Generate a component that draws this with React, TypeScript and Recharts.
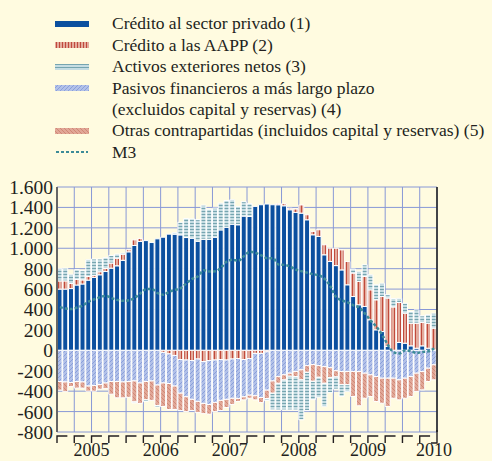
import React from "react";
import { ComposedChart, Bar, Line, XAxis, YAxis, CartesianGrid } from "recharts";

const years = ["2005", "2006", "2007", "2008", "2009", "2010"];

const privado = [
  600, 600, 605, 640, 650, 688, 715, 740, 772, 805, 828, 882,
  965, 1027, 1066, 1075, 1056, 1092, 1108, 1138, 1138, 1131, 1105, 1098,
  1068, 1088, 1088, 1108, 1180, 1206, 1236, 1230, 1315, 1312, 1410, 1426,
  1433, 1426, 1426, 1416, 1377, 1351, 1344, 1279, 1132, 1116, 936, 871,
  830, 788, 642, 527, 446, 430, 299, 201, 184, 38, 0, 77,
  70, 44, 21, 44, 21, 5,
];
const aapp = [
  80, 80, 50, 55, 40, 35, 20, 30, 30, 50, 75, 60,
  20, 55, 30, 0, 0, 0, -20, -35, -50, -90, -95, -100,
  -85, -110, -100, -95, -90, -95, -85, -80, -90, -80, -30, -30,
  -15, 0, 10, 20, 15, 33, 80, 49, 33, 65, 98, 130,
  170, 196, 228, 230, 230, 294, 294, 294, 343, 474, 425, 392,
  294, 222, 245, 229, 245, 212,
];
const activos = [
  120, 125, 90, 95, 90, 165, 160, 125, 105, 75, 40, 10,
  0, -10, 0, -15, 0, -15, 0, 0, 15, 124, 187, 190,
  212, 334, 294, 285, 262, 262, 239, 180, 141, 124, 0, 0,
  -20, -163, -261, -294, -330, -327, -392, -376, -180, -196, -229, -147,
  -120, -114, -65, 39, 98, 114, 147, 147, 130, 33, 82, 40,
  98, 114, 130, 65, 82, 147,
];
const pasivos = [
  -305, -310, -315, -305, -310, -350, -345, -335, -320, -305, -305, -310,
  -305, -300, -320, -305, -300, -340, -300, -290, -300, -330, -360, -380,
  -415, -410, -430, -415, -400, -385, -385, -391, -365, -359, -415, -432,
  -375, -300, -258, -240, -224, -207, -191, -150, -140, -150, -160, -170,
  -200, -207, -207, -207, -207, -224, -240, -256, -273, -273, -273, -289,
  -273, -256, -224, -207, -175, -142,
];
const otras = [
  -85, -95, -40, -65, -60, -50, -55, -45, -55, -125, -160, -155,
  -155, -205, -200, -180, -190, -200, -230, -255, -230, -170, -145, -110,
  -110, -100, -95, -90, -100, -80, -60, -30, -30, -30, -40, -50,
  -82, -120, -65, -50, -30, -50, -98, -65, -163, -114, -163, -98,
  -60, -130, -130, -245, -336, -245, -212, -245, -245, -277, -196, -196,
  -196, -196, -180, -180, -130, -147,
];
const m3 = [
  423, 410, 404, 420, 440, 478, 500, 521, 534, 511, 494, 485,
  490, 515, 560, 600, 600, 560, 545, 575, 592, 610, 658, 700,
  725, 785, 772, 775, 810, 870, 887, 878, 925, 965, 955, 930,
  903, 903, 840, 837, 821, 790, 775, 760, 745, 735, 700, 625,
  520, 490, 470, 440, 420, 360, 290, 230, 150, 50, -20, -30,
  0, -10, -25, -15, -10, 20,
];

const yTicks = [-800, -600, -400, -200, 0, 200, 400, 600, 800, 1000, 1200, 1400, 1600];

const months = privado.map(
  (_, i) => `${years[Math.floor(i / 12)]}-${String((i % 12) + 1).padStart(2, "0")}`
);

const data = months.map((m, i) => ({
  m,
  privado: privado[i],
  aapp: aapp[i],
  activos: activos[i],
  pasivos: pasivos[i],
  otras: otras[i],
  m3: m3[i],
}));

const INK = "#231f20";
const GRID = "#8898d6";
const BLUE = "#0b4f9f";
const M3C = "#3d8b98";
const FONT = "'Liberation Serif', 'DejaVu Serif', serif";

// layout
const W = 492;
const H = 461;
const LEFT = 57;
const RIGHT = 437;
const TOP = 187;
const XAXIS_H = 29;
const BAND = (RIGHT - LEFT) / months.length;

function fmt(v: number) {
  const s = String(Math.abs(v));
  const t = s.length > 3 ? s.slice(0, -3) + "." + s.slice(-3) : s;
  return v < 0 ? "-" + t : t;
}

function Patterns({ p }: { p: string }) {
  return (
    <defs>
      <pattern id={`${p}aapp`} width="3" height="4" patternUnits="userSpaceOnUse">
        <rect width="3" height="4" fill="#e4ab9c" />
        <rect x="1" width="1" height="4" fill="#c04a3c" />
      </pattern>
      <pattern id={`${p}activos`} width="4" height="3" patternUnits="userSpaceOnUse">
        <rect width="4" height="3" fill="#c6dde3" />
        <rect y="1" width="4" height="1" fill="#76a5b0" />
      </pattern>
      <pattern id={`${p}pasivos`} width="4" height="4" patternUnits="userSpaceOnUse">
        <rect width="4" height="4" fill="#b2c1e8" />
        <path d="M0,4 L4,0 M-1,1 L1,-1 M3,5 L5,3" stroke="#7891d6" strokeWidth="0.7" />
      </pattern>
      <pattern id={`${p}otras`} width="4" height="4" patternUnits="userSpaceOnUse">
        <rect width="4" height="4" fill="#e1a797" />
        <path d="M0,0 L4,4 M-1,3 L1,5 M3,-1 L5,1" stroke="#c97a68" strokeWidth="0.7" />
      </pattern>
    </defs>
  );
}

function QuarterTick(props: any) {
  const { x, y, payload } = props;
  const i: number = payload.index;
  const xb = x - BAND / 2;
  const out: React.ReactNode[] = [];
  if (i % 3 === 0) {
    out.push(
      <path key="t" d={`M${xb},${y + 11} V${y + 4} H${xb + BAND * 1.8}`} fill="none" stroke={INK} strokeWidth={1.4} />
    );
  }
  if (i === months.length - 1) {
    const xe = x + BAND / 2;
    out.push(<path key="e" d={`M${xe - 6},${y + 11} H${xe} V${y - 2}`} fill="none" stroke={INK} strokeWidth={1.4} />);
    out.push(
      <text key="ly" x={xe - 3} y={y + 24} textAnchor="middle" fontSize={18} fontFamily={FONT} fill={INK}>
        {years[years.length - 1]}
      </text>
    );
  }
  if (i % 12 === 6) {
    out.push(
      <text key="y" x={xb} y={y + 24} textAnchor="middle" fontSize={18} fontFamily={FONT} fill={INK}>
        {years[Math.floor(i / 12)]}
      </text>
    );
  }
  return <g>{out}</g>;
}

const legendItems = [
  { key: "privado", lines: ["Crédito al sector privado (1)"] },
  { key: "aapp", lines: ["Crédito a las AAPP (2)"] },
  { key: "activos", lines: ["Activos exteriores netos (3)"] },
  { key: "pasivos", lines: ["Pasivos financieros a más largo plazo", "(excluidos capital y reservas) (4)"] },
  { key: "otras", lines: ["Otras contrapartidas (incluidos capital y reservas) (5)"] },
  { key: "m3", lines: ["M3"] },
];

function Swatch({ k }: { k: string }) {
  return (
    <svg width={34} height={8} style={{ display: "block" }}>
      <Patterns p={`lg-${k}-`} />
      {k === "m3" ? (
        <line x1={1} y1={4} x2={33} y2={4} stroke={M3C} strokeWidth={2} strokeDasharray="3 2" />
      ) : (
        <rect x={0} y={1} width={34} height={6} fill={k === "privado" ? BLUE : `url(#lg-${k}-${k})`} />
      )}
    </svg>
  );
}

function ChartLegend() {
  const LH = 21.4;
  let row = 0;
  const nodes: React.ReactNode[] = [];
  legendItems.forEach((it) => {
    const cy = 24 + row * LH;
    nodes.push(
      <div key={it.key + "s"} style={{ position: "absolute", left: 55, top: cy - 4 }}>
        <Swatch k={it.key} />
      </div>
    );
    it.lines.forEach((ln, j) => {
      nodes.push(
        <div
          key={it.key + j}
          style={{
            position: "absolute",
            left: 112,
            top: cy + j * LH - LH / 2,
            lineHeight: `${LH}px`,
            fontSize: 17.5,
            fontFamily: FONT,
            color: INK,
            whiteSpace: "nowrap",
          }}
        >
          {ln}
        </div>
      );
    });
    row += it.lines.length;
  });
  return <>{nodes}</>;
}

export default function App() {
  return (
    <div style={{ position: "absolute", left: 0, top: 0, width: W, height: H, background: "#fffbe0", overflow: "hidden" }}>
      <ChartLegend />
      <div style={{ position: "absolute", left: 0, top: 0 }}>
        <ComposedChart
          width={W}
          height={H}
          data={data}
          stackOffset="sign"
          barCategoryGap={0}
          margin={{ top: TOP, right: 0, bottom: 0, left: 0 }}
        >
          <Patterns p="ch-" />
          <CartesianGrid
            stroke={GRID}
            strokeWidth={1}
            verticalCoordinatesGenerator={({ offset }: any) =>
              Array.from({ length: months.length / 3 + 1 }, (_, k) => offset.left + (k * 3 * offset.width) / months.length)
            }
          />
          <XAxis
            dataKey="m"
            interval={0}
            height={XAXIS_H}
            axisLine={false}
            tickLine={false}
            tickSize={0}
            tickMargin={0}
            tick={<QuarterTick />}
          />
          <YAxis
            domain={[-800, 1600]}
            ticks={yTicks}
            interval={0}
            width={LEFT}
            tickFormatter={fmt}
            tickLine={false}
            tickSize={0}
            tickMargin={4}
            axisLine={{ stroke: "#666", strokeWidth: 2 }}
            tick={{ fill: INK, fontSize: 19.5, fontFamily: FONT }}
          />
          <YAxis
            yAxisId="r"
            orientation="right"
            domain={[-800, 1600]}
            ticks={yTicks}
            interval={0}
            width={W - RIGHT}
            tickFormatter={fmt}
            tickLine={false}
            tickSize={0}
            tickMargin={5}
            axisLine={{ stroke: "#222", strokeWidth: 1.6 }}
            tick={{ fill: INK, fontSize: 19.5, fontFamily: FONT }}
          />
          <Bar dataKey="privado" stackId="s" fill={BLUE} stroke="#fff" strokeWidth={1} barSize={5} isAnimationActive={false} />
          <Bar dataKey="aapp" stackId="s" fill="url(#ch-aapp)" stroke="#fff" strokeWidth={1} barSize={5} isAnimationActive={false} />
          <Bar dataKey="pasivos" stackId="s" fill="url(#ch-pasivos)" stroke="#fff" strokeWidth={1} barSize={5} isAnimationActive={false} />
          <Bar dataKey="otras" stackId="s" fill="url(#ch-otras)" stroke="#fff" strokeWidth={1} barSize={5} isAnimationActive={false} />
          <Bar dataKey="activos" stackId="s" fill="url(#ch-activos)" stroke="#fff" strokeWidth={1} barSize={5} isAnimationActive={false} />
          <Line
            dataKey="m3"
            type="monotone"
            stroke={M3C}
            strokeWidth={2.5}
            strokeDasharray="3 2"
            dot={false}
            isAnimationActive={false}
          />
        </ComposedChart>
      </div>
    </div>
  );
}
